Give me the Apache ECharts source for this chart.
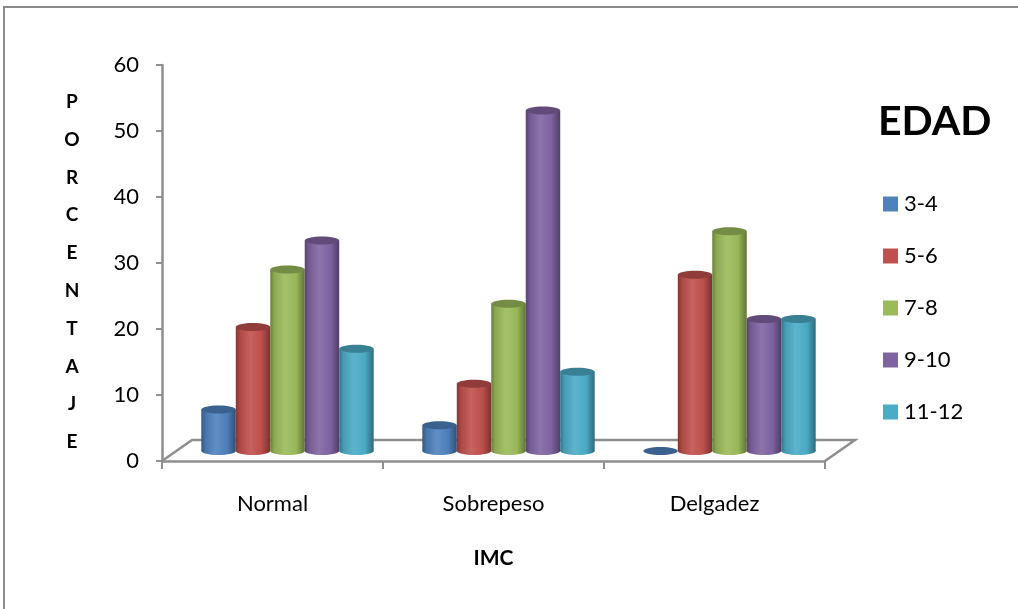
<!DOCTYPE html>
<html>
<head>
<meta charset="utf-8">
<title>IMC por edad</title>
<script src="https://cdn.jsdelivr.net/npm/echarts@6/dist/echarts.min.js"></script>
<style>
  html, body { margin: 0; padding: 0; background: #ffffff; }
  #chart { width: 1018px; height: 609px; }
</style>
</head>
<body>
<div id="chart"></div>
<script>
// Categories (IMC) and age groups
const categories = ['Normal', 'Sobrepeso', 'Delgadez'];
const ageGroups = ['3-4', '5-6', '7-8', '9-10', '11-12'];

// Percentage per IMC category for each age group
const edad3a4 = [6.3, 3.9, 0];
const edad5a6 = [18.8, 10.2, 26.7];
const edad7a8 = [27.5, 22.3, 33.3];
const edad9a10 = [31.9, 51.6, 20.0];
const edad11a12 = [15.5, 12.0, 20.0];

const yTicks = [0, 10, 20, 30, 40, 50, 60];
const yTitle = 'PORCENTAJE';

const seriesValues = [edad3a4, edad5a6, edad7a8, edad9a10, edad11a12];
const palette = ['#4F81BD', '#C0504D', '#9BBB59', '#8064A2', '#4BACC6'];

const FONT = 'Lato, "Open Sans", sans-serif';
const AXIS_GRAY = '#8e8e8e';

// depth offsets of the 3D floor (back edge) and of the cylinder row (mid depth)
const FLOOR_DX = 30, FLOOR_DY = -21;
const BAR_DX = 15, BAR_DY = -10;

function shade(hex, f) {
  const n = parseInt(hex.slice(1), 16);
  let r = (n >> 16) & 255, g = (n >> 8) & 255, b = n & 255;
  const mix = (c) => f >= 0 ? Math.round(c + (255 - c) * f) : Math.round(c * (1 + f));
  r = mix(r); g = mix(g); b = mix(b);
  return '#' + ((1 << 24) | (r << 16) | (g << 8) | b).toString(16).slice(1);
}

function bodyGradient(base) {
  return new echarts.graphic.LinearGradient(0, 0, 1, 0, [
    { offset: 0, color: shade(base, -0.32) },
    { offset: 0.12, color: shade(base, -0.1) },
    { offset: 0.42, color: shade(base, 0.1) },
    { offset: 0.75, color: shade(base, -0.02) },
    { offset: 1, color: shade(base, -0.38) }
  ]);
}

function cylinderRenderer(seriesIdx) {
  const base = palette[seriesIdx];
  return function (params, api) {
    const cat = api.value(0);
    const val = api.value(1);
    const p0 = api.coord([cat, 0]);
    const p1 = api.coord([cat, val]);
    const catW = api.size([1, 0])[0];
    const barW = catW * 0.156;
    const left = p0[0] + BAR_DX - 2.5 * barW + seriesIdx * barW;
    const cx = left + barW / 2;
    const yBottom = p0[1] + BAR_DY;
    const yTop = p1[1] + BAR_DY;
    const rx = barW / 2;
    const ry = 4;
    const children = [];
    if (yBottom - yTop > 0.5) {
      children.push({
        type: 'ellipse',
        shape: { cx: cx, cy: yBottom, rx: rx, ry: ry },
        style: { fill: bodyGradient(base) }
      });
      children.push({
        type: 'rect',
        shape: { x: left, y: yTop, width: barW, height: yBottom - yTop },
        style: { fill: bodyGradient(base) }
      });
    }
    children.push({
      type: 'ellipse',
      shape: { cx: cx, cy: yTop, rx: rx, ry: ry },
      style: { fill: shade(base, -0.25) }
    });
    return { type: 'group', children: children };
  };
}

function floorRenderer(params, api) {
  if (params.dataIndex !== 0) return null;
  const cs = params.coordSys;
  const x0 = cs.x, x1 = cs.x + cs.width, y = cs.y + cs.height;
  return {
    type: 'polyline',
    shape: {
      points: [
        [x0, y],
        [x0 + FLOOR_DX, y + FLOOR_DY],
        [x1 + FLOOR_DX, y + FLOOR_DY],
        [x1, y]
      ]
    },
    style: { stroke: AXIS_GRAY, lineWidth: 2.5, fill: null }
  };
}

const series = [{
  type: 'custom',
  name: 'floor',
  renderItem: floorRenderer,
  data: categories.map((c, i) => [i, 0]),
  z: 1,
  silent: true,
  legendHoverLink: false
}];

ageGroups.forEach((age, s) => {
  series.push({
    type: 'custom',
    name: age,
    renderItem: cylinderRenderer(s),
    itemStyle: { color: palette[s] },
    encode: { x: 0, y: 1 },
    data: seriesValues[s].map((v, i) => [i, v]),
    z: 3 + s
  });
});

const chart = echarts.init(document.getElementById('chart'), null, { renderer: 'canvas' });

chart.setOption({
  backgroundColor: '#ffffff',
  animation: false,
  title: {
    text: 'EDAD',
    left: 878,
    top: 101,
    padding: 0,
    textStyle: { fontFamily: FONT, fontSize: 41, fontWeight: 'bold', color: '#000' }
  },
  legend: {
    orient: 'vertical',
    left: 883,
    top: 193,
    padding: 0,
    itemWidth: 15,
    itemHeight: 15,
    itemGap: 30,
    icon: 'rect',
    data: ageGroups,
    textStyle: { fontFamily: FONT, fontSize: 22, color: '#000', lineHeight: 22, padding: [0, 0, 0, 1] }
  },
  graphic: [{
    type: 'rect',
    shape: { x: 4, y: 7, width: 1100, height: 700 },
    style: { fill: null, stroke: '#8a8a8a', lineWidth: 2 },
    silent: true
  }],
  grid: { left: 162, right: 193, top: 65, bottom: 148 },
  xAxis: {
    type: 'category',
    data: categories,
    name: 'IMC',
    nameLocation: 'middle',
    nameGap: 87,
    nameTextStyle: { fontFamily: FONT, fontSize: 21, fontWeight: 'bold', color: '#000' },
    axisLine: { lineStyle: { color: AXIS_GRAY, width: 2.5 } },
    axisTick: { show: true, length: 8, lineStyle: { color: AXIS_GRAY, width: 2 } },
    axisLabel: { margin: 32, fontFamily: FONT, fontSize: 22, color: '#000' },
    splitLine: { show: false }
  },
  yAxis: {
    type: 'value',
    min: yTicks[0],
    max: yTicks[yTicks.length - 1],
    interval: 10,
    // stacked letters, with a small spacer line on top
    name: '{g| }\n' + yTitle.split('').join('\n'),
    nameLocation: 'middle',
    nameRotate: 0,
    nameGap: 90,
    nameTextStyle: {
      fontFamily: FONT, fontSize: 19, fontWeight: 'bold', color: '#000',
      lineHeight: 37.8, align: 'center', verticalAlign: 'middle',
      rich: { g: { fontSize: 1, lineHeight: 18 } }
    },
    axisLine: { show: true, lineStyle: { color: AXIS_GRAY, width: 2.5 } },
    axisTick: { show: true, length: 6, lineStyle: { color: AXIS_GRAY, width: 2 } },
    axisLabel: { margin: 23, fontFamily: FONT, fontSize: 22, color: '#000' },
    splitLine: { show: false }
  },
  series: series
});
</script>
</body>
</html>
